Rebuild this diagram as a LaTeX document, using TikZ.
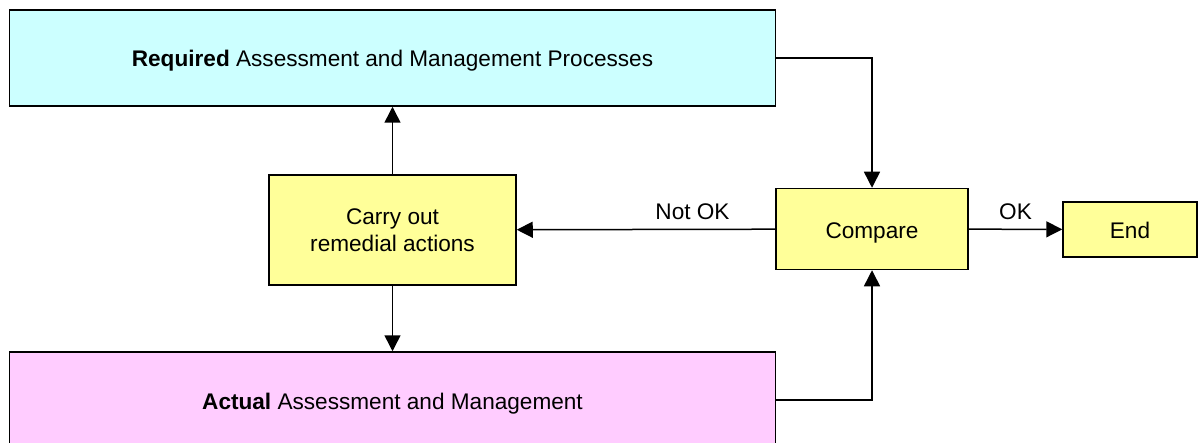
\documentclass[tikz,border=0pt]{standalone}
\usepackage{fontspec}
\setmainfont{Liberation Sans}
\usetikzlibrary{arrows.meta, calc}

\definecolor{reqcyan}{HTML}{CCFFFF}
\definecolor{actpink}{HTML}{FFCCFF}
\definecolor{stepyellow}{HTML}{FFFF99}

\begin{document}
\begin{tikzpicture}[x=0.5pt, y=-0.5pt,
    box/.style={draw, line width=0.75pt, inner sep=0, font=\fontsize{11.3}{13.3}\selectfont},
    oneline/.style={text height=1.15em, text depth=0.25em},
    wide/.style={box, oneline, minimum width=383pt, minimum height=48pt},
    action/.style={box, fill=stepyellow},
    flow/.style={line width=0.75pt, -{Triangle[length=8pt, width=8pt]}},
    lbl/.style={font=\fontsize{11.3}{13.3}\selectfont, inner sep=2pt, above=2.5pt}]

    \useasboundingbox (0,0) rectangle (1198,443);

    \node[wide, fill=reqcyan] (req) at (392.5,58) {\textbf{Required} Assessment and Management Processes};
    \node[wide, fill=actpink] (act) at (392.5,400) {\textbf{Actual} Assessment and Management};
    \node[action, align=center, minimum width=123.5pt, minimum height=55pt] (remedy) at (392.5,230) {Carry out\\remedial actions};
    \node[action, oneline, minimum width=96pt, minimum height=40.5pt] (cmp) at (872,229) {Compare};
    \node[action, oneline, minimum width=67pt, minimum height=27.5pt] (end) at (1130,229.5) {End};

    \draw[flow] (remedy) -- (req);
    \draw[flow] (remedy) -- (act);
    \draw[flow] (req.east) -| (cmp.north);
    \draw[flow] (act.east) -| (cmp.south);
    \draw[flow] (cmp) -- node[lbl, pos=0.32] {Not OK} (remedy);
    \draw[flow] (cmp) -- node[lbl] {OK} (end);
\end{tikzpicture}
\end{document}
